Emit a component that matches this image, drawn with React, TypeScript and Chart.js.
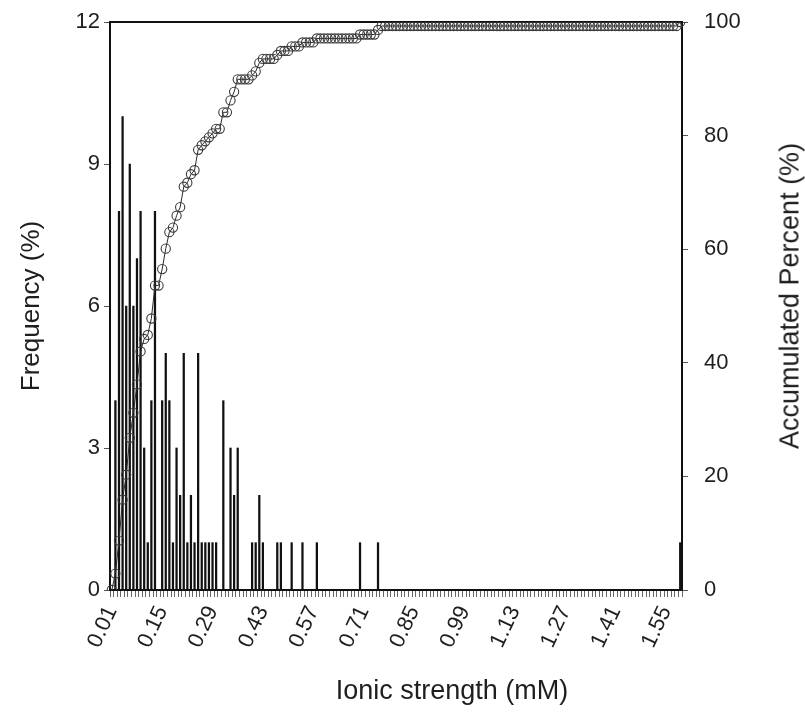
import React, { useEffect, useRef } from "react";
import { Chart, registerables } from "chart.js";

Chart.register(...registerables);

const categories = [
  "0.01", "0.02", "0.03", "0.04", "0.05", "0.06", "0.07", "0.08", "0.09", "0.10",
  "0.11", "0.12", "0.13", "0.14", "0.15", "0.16", "0.17", "0.18", "0.19", "0.20",
  "0.21", "0.22", "0.23", "0.24", "0.25", "0.26", "0.27", "0.28", "0.29", "0.30",
  "0.31", "0.32", "0.33", "0.34", "0.35", "0.36", "0.37", "0.38", "0.39", "0.40",
  "0.41", "0.42", "0.43", "0.44", "0.45", "0.46", "0.47", "0.48", "0.49", "0.50",
  "0.51", "0.52", "0.53", "0.54", "0.55", "0.56", "0.57", "0.58", "0.59", "0.60",
  "0.61", "0.62", "0.63", "0.64", "0.65", "0.66", "0.67", "0.68", "0.69", "0.70",
  "0.71", "0.72", "0.73", "0.74", "0.75", "0.76", "0.77", "0.78", "0.79", "0.80",
  "0.81", "0.82", "0.83", "0.84", "0.85", "0.86", "0.87", "0.88", "0.89", "0.90",
  "0.91", "0.92", "0.93", "0.94", "0.95", "0.96", "0.97", "0.98", "0.99", "1.00",
  "1.01", "1.02", "1.03", "1.04", "1.05", "1.06", "1.07", "1.08", "1.09", "1.10",
  "1.11", "1.12", "1.13", "1.14", "1.15", "1.16", "1.17", "1.18", "1.19", "1.20",
  "1.21", "1.22", "1.23", "1.24", "1.25", "1.26", "1.27", "1.28", "1.29", "1.30",
  "1.31", "1.32", "1.33", "1.34", "1.35", "1.36", "1.37", "1.38", "1.39", "1.40",
  "1.41", "1.42", "1.43", "1.44", "1.45", "1.46", "1.47", "1.48", "1.49", "1.50",
  "1.51", "1.52", "1.53", "1.54", "1.55", "1.56", "1.57", "1.58", "1.59",
];

const frequency = [
  0, 4, 8, 10, 6, 9, 6, 7, 8, 3,
  1, 4, 8, 0, 4, 5, 4, 1, 3, 2,
  5, 1, 2, 1, 5, 1, 1, 1, 1, 1,
  0, 4, 0, 3, 2, 3, 0, 0, 0, 1,
  1, 2, 1, 0, 0, 0, 1, 1, 0, 0,
  1, 0, 0, 1, 0, 0, 0, 1, 0, 0,
  0, 0, 0, 0, 0, 0, 0, 0, 0, 1,
  0, 0, 0, 0, 1, 0, 0, 0, 0, 0,
  0, 0, 0, 0, 0, 0, 0, 0, 0, 0,
  0, 0, 0, 0, 0, 0, 0, 0, 0, 0,
  0, 0, 0, 0, 0, 0, 0, 0, 0, 0,
  0, 0, 0, 0, 0, 0, 0, 0, 0, 0,
  0, 0, 0, 0, 0, 0, 0, 0, 0, 0,
  0, 0, 0, 0, 0, 0, 0, 0, 0, 0,
  0, 0, 0, 0, 0, 0, 0, 0, 0, 0,
  0, 0, 0, 0, 0, 0, 0, 0, 1,
];

const accumulated = [
  0, 2.9, 8.7, 15.9, 20.3, 26.8, 31.2, 36.2, 42.0, 44.2,
  44.9, 47.8, 53.6, 53.6, 56.5, 60.1, 63.0, 63.8, 65.9, 67.4,
  71.0, 71.7, 73.2, 73.9, 77.5, 78.3, 79.0, 79.7, 80.4, 81.2,
  81.2, 84.1, 84.1, 86.2, 87.7, 89.9, 89.9, 89.9, 89.9, 90.6,
  91.3, 92.8, 93.5, 93.5, 93.5, 93.5, 94.2, 94.9, 94.9, 94.9,
  95.7, 95.7, 95.7, 96.4, 96.4, 96.4, 96.4, 97.1, 97.1, 97.1,
  97.1, 97.1, 97.1, 97.1, 97.1, 97.1, 97.1, 97.1, 97.1, 97.8,
  97.8, 97.8, 97.8, 97.8, 98.6, 99.3, 99.3, 99.3, 99.3, 99.3,
  99.3, 99.3, 99.3, 99.3, 99.3, 99.3, 99.3, 99.3, 99.3, 99.3,
  99.3, 99.3, 99.3, 99.3, 99.3, 99.3, 99.3, 99.3, 99.3, 99.3,
  99.3, 99.3, 99.3, 99.3, 99.3, 99.3, 99.3, 99.3, 99.3, 99.3,
  99.3, 99.3, 99.3, 99.3, 99.3, 99.3, 99.3, 99.3, 99.3, 99.3,
  99.3, 99.3, 99.3, 99.3, 99.3, 99.3, 99.3, 99.3, 99.3, 99.3,
  99.3, 99.3, 99.3, 99.3, 99.3, 99.3, 99.3, 99.3, 99.3, 99.3,
  99.3, 99.3, 99.3, 99.3, 99.3, 99.3, 99.3, 99.3, 99.3, 99.3,
  99.3, 99.3, 99.3, 99.3, 99.3, 99.3, 99.3, 99.3, 100,
];

const freqAxis = { min: 0, max: 12, step: 3 };
const accAxis = { min: 0, max: 100, step: 20 };
const xLabelEvery = 14;

const FONT = "'Liberation Sans', Arial, Helvetica, sans-serif";
const TEXT = "#1e1e1e";

export default function App() {
  const ref = useRef<HTMLCanvasElement | null>(null);

  useEffect(() => {
    if (!ref.current) return;
    const chart = new Chart(ref.current, {
      type: "bar",
      data: {
        labels: categories,
        datasets: [
          {
            type: "line",
            label: "Accumulated Percent (%)",
            data: accumulated,
            yAxisID: "y1",
            order: 0,
            borderColor: "#2a2a2a",
            borderWidth: 1,
            pointRadius: 4.6,
            pointBorderWidth: 1.1,
            pointBorderColor: "#3a3a3a",
            pointBackgroundColor: "rgba(255,255,255,0)",
            tension: 0,
          } as any,
          {
            type: "bar",
            label: "Frequency (%)",
            data: frequency,
            yAxisID: "y",
            order: 1,
            backgroundColor: "#111111",
            borderWidth: 0,
            barThickness: 1.6,
          } as any,
        ],
      },
      options: {
        animation: false,
        responsive: true,
        maintainAspectRatio: false,
        layout: { padding: { left: 12, right: 0, top: 0, bottom: 18 } },
        plugins: { legend: { display: false }, tooltip: { enabled: false } },
        scales: {
          x: {
            type: "category",
            position: "bottom",
            offset: true,
            grid: {
              display: true,
              drawOnChartArea: false,
              drawTicks: true,
              tickLength: 7,
              color: "#666",
              tickColor: "#666",
              lineWidth: 1,
              offset: true,
            },
            border: { display: true, color: "#111", width: 2 },
            ticks: {
              autoSkip: false,
              minRotation: 65,
              maxRotation: 65,
              padding: 5,
              color: TEXT,
              font: { family: FONT, size: 22 },
              callback: (_v: any, i: number) => (i % xLabelEvery === 0 ? categories[i] : ""),
            },
            title: { display: false },
            afterFit: (s: any) => {
              s.height = 118;
            },
          },
          x2: {
            type: "category",
            position: "top",
            offset: true,
            grid: { display: false, drawTicks: false },
            border: { display: true, color: "#111", width: 2 },
            ticks: { display: false },
            afterFit: (s: any) => {
              s.height = 22;
            },
          },
          y: {
            position: "left",
            min: freqAxis.min,
            max: freqAxis.max,
            ticks: {
              stepSize: freqAxis.step,
              padding: 4,
              color: TEXT,
              font: { family: FONT, size: 22 },
            },
            grid: { drawOnChartArea: false, tickLength: 6, color: "#555", tickColor: "#555" },
            border: { display: true, color: "#111", width: 2 },
            title: {
              display: true,
              text: "Frequency (%)",
              color: TEXT,
              font: { family: FONT, size: 26 },
              padding: { top: 4, bottom: 4 },
            },
            afterFit: (s: any) => {
              s.width = 98;
              s.paddingTop = 0;
              s.paddingBottom = 0;
            },
          },
          y1: {
            position: "right",
            min: accAxis.min,
            max: accAxis.max,
            ticks: {
              stepSize: accAxis.step,
              padding: 16,
              color: TEXT,
              font: { family: FONT, size: 22 },
            },
            grid: { drawOnChartArea: false, tickLength: 6, color: "#555", tickColor: "#555" },
            border: { display: true, color: "#111", width: 2 },
            afterFit: (s: any) => {
              s.width = 123;
              s.paddingTop = 0;
              s.paddingBottom = 0;
            },
          },
        },
      } as any,
    });
    return () => chart.destroy();
  }, []);

  return (
    <div
      style={{
        position: "absolute",
        left: 0,
        top: 0,
        width: 805,
        height: 726,
        background: "#ffffff",
        overflow: "hidden",
      }}
    >
      <canvas ref={ref} />
      <div
        style={{
          position: "absolute",
          left: 452,
          top: 690,
          transform: "translate(-50%, -50%)",
          whiteSpace: "nowrap",
          fontFamily: FONT,
          fontSize: 27,
          color: TEXT,
          lineHeight: 1,
        }}
      >
        Ionic strength (mM)
      </div>
      <div
        style={{
          position: "absolute",
          left: 790,
          top: 296,
          transform: "translate(-50%, -50%) rotate(-90deg)",
          whiteSpace: "nowrap",
          fontFamily: FONT,
          fontSize: 27,
          color: TEXT,
          lineHeight: 1,
        }}
      >
        Accumulated Percent (%)
      </div>
    </div>
  );
}
